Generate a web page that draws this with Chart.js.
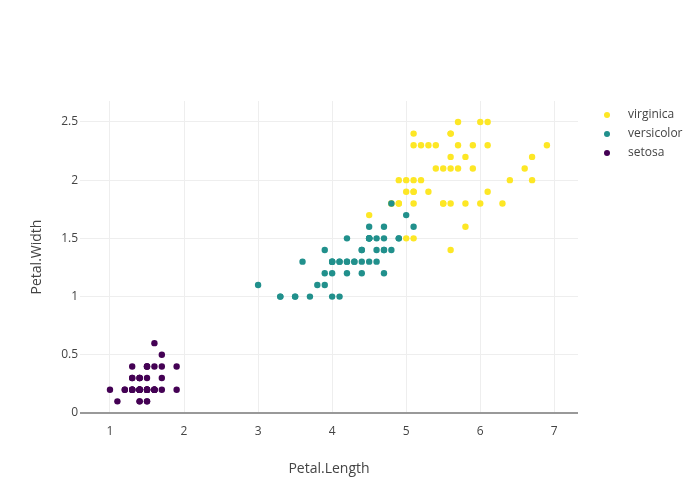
<!DOCTYPE html>
<html>
<head>
<meta charset="utf-8">
<script src="https://cdn.jsdelivr.net/npm/chart.js@4.4.0/dist/chart.umd.min.js"></script>
<style>
  html, body { margin: 0; padding: 0; background: #fff; }
  #wrap { width: 700px; height: 500px; }
</style>
</head>
<body>
<div id="wrap"><canvas id="irisChart" width="700" height="500"></canvas></div>
<script>
// iris petal measurements, [Petal.Length, Petal.Width]
var setosa = [
  [1.4,0.2],[1.4,0.2],[1.3,0.2],[1.5,0.2],[1.4,0.2],[1.7,0.4],[1.4,0.3],[1.5,0.2],[1.4,0.2],[1.5,0.1],
  [1.5,0.2],[1.6,0.2],[1.4,0.1],[1.1,0.1],[1.2,0.2],[1.5,0.4],[1.3,0.4],[1.4,0.3],[1.7,0.3],[1.5,0.3],
  [1.7,0.2],[1.5,0.4],[1.0,0.2],[1.7,0.5],[1.9,0.2],[1.6,0.2],[1.6,0.4],[1.5,0.2],[1.4,0.2],[1.6,0.2],
  [1.6,0.2],[1.5,0.4],[1.5,0.1],[1.4,0.2],[1.5,0.2],[1.2,0.2],[1.3,0.2],[1.4,0.1],[1.3,0.2],[1.5,0.2],
  [1.3,0.3],[1.3,0.3],[1.3,0.2],[1.6,0.6],[1.9,0.4],[1.4,0.3],[1.6,0.2],[1.4,0.2],[1.5,0.2],[1.4,0.2]
];
var versicolor = [
  [4.7,1.4],[4.5,1.5],[4.9,1.5],[4.0,1.3],[4.6,1.5],[4.5,1.3],[4.7,1.6],[3.3,1.0],[4.6,1.3],[3.9,1.4],
  [3.5,1.0],[4.2,1.5],[4.0,1.0],[4.7,1.4],[3.6,1.3],[4.4,1.4],[4.5,1.5],[4.1,1.0],[4.5,1.5],[3.9,1.1],
  [4.8,1.8],[4.0,1.3],[4.9,1.5],[4.7,1.2],[4.3,1.3],[4.4,1.4],[4.8,1.4],[5.0,1.7],[4.5,1.5],[3.5,1.0],
  [3.8,1.1],[3.7,1.0],[3.9,1.2],[5.1,1.6],[4.5,1.5],[4.5,1.6],[4.7,1.5],[4.4,1.3],[4.1,1.3],[4.0,1.3],
  [4.4,1.2],[4.6,1.4],[4.0,1.2],[3.3,1.0],[4.2,1.3],[4.2,1.2],[4.2,1.3],[4.3,1.3],[3.0,1.1],[4.1,1.3]
];
var virginica = [
  [6.0,2.5],[5.1,1.9],[5.9,2.1],[5.6,1.8],[5.8,2.2],[6.6,2.1],[4.5,1.7],[6.3,1.8],[5.8,1.8],[6.1,2.5],
  [5.1,2.0],[5.3,1.9],[5.5,2.1],[5.0,2.0],[5.1,2.4],[5.3,2.3],[5.5,1.8],[6.7,2.2],[6.9,2.3],[5.0,1.5],
  [5.7,2.3],[4.9,2.0],[6.7,2.0],[4.9,1.8],[5.7,2.1],[6.0,1.8],[4.8,1.8],[4.9,1.8],[5.6,2.1],[5.8,1.6],
  [6.1,1.9],[6.4,2.0],[5.6,2.2],[5.1,1.5],[5.6,1.4],[6.1,2.3],[5.6,2.4],[5.5,1.8],[4.8,1.8],[5.4,2.1],
  [5.6,2.4],[5.1,2.3],[5.1,1.9],[5.9,2.3],[5.7,2.5],[5.2,2.3],[5.0,1.9],[5.2,2.0],[5.4,2.3],[5.1,1.8]
];
var speciesNames = ['virginica', 'versicolor', 'setosa'];
var speciesColors = ['#fde725', '#21908c', '#440154'];
var xTicks = [1, 2, 3, 4, 5, 6, 7];
var yTicks = [0, 0.5, 1, 1.5, 2, 2.5];

function toPoints(arr) {
  return arr.map(function(p) { return {x: p[0], y: p[1]}; });
}

var FONT = '"Open Sans", "Noto Sans", sans-serif';

// plotly-ish legend at top right
var sideLegend = {
  id: 'sideLegend',
  afterDraw: function(chart) {
    var c = chart.ctx;
    c.save();
    c.font = '12px ' + FONT;
    c.textBaseline = 'middle';
    c.textAlign = 'left';
    for (var i = 0; i < speciesNames.length; i++) {
      var y = 115 + i * 19;
      c.fillStyle = speciesColors[i];
      c.beginPath();
      c.arc(607, y, 3, 0, Math.PI * 2);
      c.fill();
      c.fillStyle = '#444';
      c.fillText(speciesNames[i], 628, y);
    }
    c.restore();
  }
};

var ctx = document.getElementById('irisChart');
var chart = new Chart(ctx, {
  type: 'scatter',
  data: {
    datasets: [
      { label: 'virginica', data: toPoints(virginica), backgroundColor: speciesColors[0], order: 3 },
      { label: 'versicolor', data: toPoints(versicolor), backgroundColor: speciesColors[1], order: 2 },
      { label: 'setosa', data: toPoints(setosa), backgroundColor: speciesColors[2], order: 1 }
    ]
  },
  options: {
    responsive: false,
    animation: false,
    layout: { padding: { left: 0, top: 101, right: 122, bottom: 0 } },
    elements: { point: { radius: 3.2, borderWidth: 0, hoverRadius: 4 } },
    plugins: { legend: { display: false }, tooltip: { enabled: false } },
    scales: {
      x: {
        type: 'linear',
        min: 0.595,
        max: 7.32,
        afterBuildTicks: function(s) { s.ticks = xTicks.map(function(v) { return {value: v}; }); },
        afterFit: function(s) { s.height = 87; },
        grid: { color: '#eee', drawTicks: false },
        border: { display: false },
        ticks: { color: '#444', font: { family: FONT, size: 12 }, padding: 11, maxRotation: 0 },
        title: { display: true, text: 'Petal.Length', color: '#444', font: { family: FONT, size: 14 }, padding: { top: 0, bottom: 23 } }
      },
      y: {
        type: 'linear',
        min: 0,
        max: 2.68,
        afterBuildTicks: function(s) { s.ticks = yTicks.map(function(v) { return {value: v}; }); },
        afterFit: function(s) { s.width = 80; },
        grid: {
          drawTicks: false,
          color: function(c) { return c.tick && c.tick.value === 0 ? '#999' : '#eee'; },
          lineWidth: function(c) { return c.tick && c.tick.value === 0 ? 2 : 1; }
        },
        border: { display: false },
        ticks: {
          color: '#444', font: { family: FONT, size: 12 }, padding: 2,
          callback: function(v) { return String(v); }
        },
        title: { display: true, text: 'Petal.Width', color: '#444', font: { family: FONT, size: 14 }, padding: { top: 29, bottom: 0 } }
      }
    }
  },
  plugins: [sideLegend]
});
</script>
</body>
</html>
